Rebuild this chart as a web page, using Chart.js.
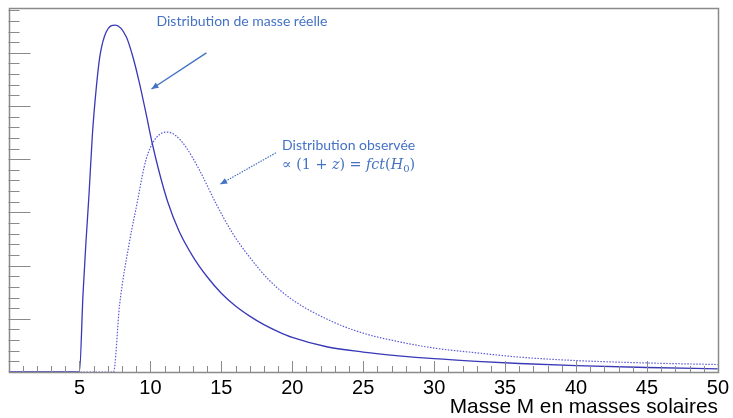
<!DOCTYPE html>
<html>
<head>
<meta charset="utf-8">
<script src="https://cdn.jsdelivr.net/npm/chart.js@4.4.0/dist/chart.umd.min.js"></script>
<style>
  html, body { margin: 0; padding: 0; background: #fff; }
  #wrap { width: 733px; height: 418px; }
</style>
</head>
<body>
<div id="wrap"><canvas id="chart" width="733" height="418"></canvas></div>
<script>
// Distribution de masse réelle (trait plein)
const massReal = [0, 5, 5.25, 5.45, 5.68, 5.91, 6.19, 6.45, 6.9, 7.53, 8.3, 8.76, 9.23, 9.7, 10.13, 10.64, 11.22, 12, 13, 14, 15, 16, 17, 18, 19, 20, 22.5, 25, 27.5, 30, 33, 36, 40, 45, 50];
const densReal = [0, 0, 1.45, 2.4, 3.36, 4.45, 5.35, 5.95, 6.4, 6.52, 6.3, 5.93, 5.43, 4.85, 4.3, 3.74, 3.2, 2.66, 2.17, 1.79, 1.48, 1.24, 1.05, 0.89, 0.76, 0.65, 0.47, 0.375, 0.305, 0.25, 0.2, 0.16, 0.12, 0.085, 0.058];

// Distribution observée, décalée par (1+z) (pointillés)
const massObs = [0, 7.4, 7.83, 8.53, 9.12, 9.4, 9.7, 10.0, 10.4, 10.8, 11.2, 11.8, 12.5, 13.45, 14.62, 15.79, 16.96, 18.36, 20, 22.8, 25, 27.5, 30, 33, 36, 40, 45, 50];
const densObs = [0, 0, 1.26, 2.45, 3.25, 3.65, 4.0, 4.22, 4.4, 4.49, 4.51, 4.44, 4.23, 3.8, 3.17, 2.61, 2.17, 1.73, 1.36, 0.95, 0.73, 0.57, 0.45, 0.36, 0.28, 0.215, 0.17, 0.14];

const xMin = 0, xMax = 50, xStep = 5;
const yMax = 6.842;

const toPoints = (xs, ys) => xs.map((m, i) => ({ x: m, y: ys[i] }));

const blue = "#4472c4";

function arrow(ctx, x0, y0, x1, y1, dash) {
  ctx.setLineDash(dash);
  ctx.beginPath();
  ctx.moveTo(x0, y0);
  ctx.lineTo(x1, y1);
  ctx.stroke();
  ctx.setLineDash([]);
  const a = Math.atan2(y1 - y0, x1 - x0), L = 7, W = 3;
  ctx.beginPath();
  ctx.moveTo(x1, y1);
  ctx.lineTo(x1 - L * Math.cos(a) + W * Math.sin(a), y1 - L * Math.sin(a) - W * Math.cos(a));
  ctx.lineTo(x1 - L * Math.cos(a) - W * Math.sin(a), y1 - L * Math.sin(a) + W * Math.cos(a));
  ctx.closePath();
  ctx.fill();
}

// cadre + graduations vers l'intérieur, façon ROOT
const rootAxes = {
  id: "rootAxes",
  afterDatasetsDraw(chart) {
    const { ctx, chartArea: a, scales: { x, y } } = chart;
    ctx.save();
    ctx.strokeStyle = "#8a8a8a";
    ctx.lineWidth = 1.5;
    ctx.strokeRect(Math.round(a.left) + 0.5, Math.round(a.top) + 0.5,
      Math.round(a.right - a.left), Math.round(a.bottom - a.top));
    ctx.lineWidth = 1;
    ctx.beginPath();
    for (let v = xMin + 1; v < xMax; v++) {
      const px = Math.round(x.getPixelForValue(v)) + 0.5;
      const len = v % xStep === 0 ? 11 : 6;
      ctx.moveTo(px, a.bottom);
      ctx.lineTo(px, a.bottom - len);
    }
    for (let i = 1; i * 0.2 < yMax; i++) {
      const py = Math.round(y.getPixelForValue(i * 0.2)) + 0.5;
      const len = i % 5 === 0 ? 22 : 11;
      ctx.moveTo(a.left, py);
      ctx.lineTo(a.left + len, py);
    }
    ctx.stroke();
    ctx.restore();
  }
};

// légendes fléchées
const notes = {
  id: "notes",
  afterDraw(chart) {
    const { ctx, scales: { x, y } } = chart;
    const P = (m, d) => [x.getPixelForValue(m), y.getPixelForValue(d)];
    ctx.save();
    ctx.fillStyle = blue;
    ctx.strokeStyle = blue;
    ctx.textBaseline = "middle";
    ctx.font = "14px Lato";

    let [tx, ty] = P(10.43, 6.58);
    ctx.fillText("Distribution de masse réelle", tx, ty);
    ctx.lineWidth = 1.4;
    arrow(ctx, ...P(13.95, 6.0), ...P(10.08, 5.32), []);

    [tx, ty] = P(19.28, 4.25);
    ctx.fillText("Distribution observée", tx, ty);

    // ∝ (1 + z) = fct(H0), ramené à la largeur de la ligne du dessus
    [tx, ty] = P(19.28, 3.89);
    const lineW = ctx.measureText("Distribution observée").width;
    const parts = [["∝ ", ""], ["(1 + ", ""], ["z", "italic "], [") = ", ""], ["fct", "italic "], ["(", ""], ["H", "italic "], ["0", "sub"], [")", ""]];
    const fam = "px 'DejaVu Serif'";
    const fontOf = (st, s) => (st === "sub" ? (s * 0.7) + fam : st + s + fam);
    let w = 0;
    for (const [t, st] of parts) { ctx.font = fontOf(st, 10); w += ctx.measureText(t).width; }
    const size = 10 * lineW / w;
    let cx = tx;
    for (const [t, st] of parts) {
      ctx.font = fontOf(st, size);
      ctx.fillText(t, cx, st === "sub" ? ty + size * 0.3 : ty);
      cx += ctx.measureText(t).width;
    }

    ctx.lineWidth = 1.2;
    arrow(ctx, ...P(18.85, 4.12), ...P(14.92, 3.53), [1.5, 1.2]);
    ctx.restore();
  }
};

new Chart(document.getElementById("chart"), {
  type: "line",
  data: {
    datasets: [
      {
        data: toPoints(massReal, densReal),
        borderColor: "#3838b8",
        borderWidth: 1.3,
        pointRadius: 0,
        cubicInterpolationMode: "monotone",
        fill: false
      },
      {
        data: toPoints(massObs, densObs),
        borderColor: "#5a5ad6",
        borderWidth: 1.2,
        borderDash: [1.5, 1.5],
        pointRadius: 0,
        cubicInterpolationMode: "monotone",
        fill: false
      }
    ]
  },
  options: {
    responsive: false,
    animation: false,
    events: [],
    layout: { padding: { left: 8.5, right: 13, top: 8, bottom: 0 } },
    plugins: { legend: { display: false }, tooltip: { enabled: false } },
    scales: {
      x: {
        type: "linear",
        min: xMin,
        max: xMax,
        afterFit: s => { s.height = 46; },
        grid: { display: false, drawTicks: false },
        border: { display: false },
        ticks: {
          stepSize: xStep,
          autoSkip: false,
          maxRotation: 0,
          padding: 4,
          color: "#000",
          font: { family: "'Liberation Sans'", size: 20 },
          callback: v => (v === 0 ? "" : v)
        },
        title: {
          display: true,
          text: "Masse M en masses solaires",
          align: "end",
          color: "#000",
          padding: 0,
          font: { family: "'Liberation Sans'", size: 20.8, lineHeight: 1 }
        }
      },
      y: { display: false, min: 0, max: yMax }
    }
  },
  plugins: [rootAxes, notes]
});
</script>
</body>
</html>
